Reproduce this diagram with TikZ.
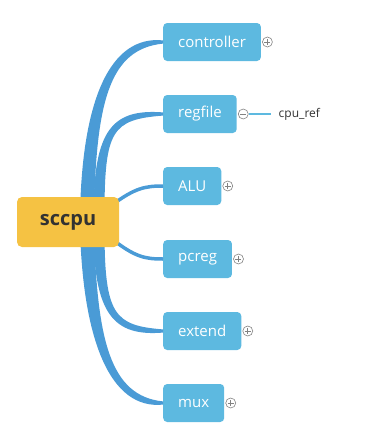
\documentclass[tikz,border=0pt]{standalone}
\usepackage{fontspec}
\setmainfont{Open Sans}
\usetikzlibrary{positioning,calc}

\definecolor{rootfill}{RGB}{245,194,67}
\definecolor{topicfill}{RGB}{93,185,224}
\definecolor{branchblue}{RGB}{74,155,214}
\definecolor{foldgrey}{RGB}{130,130,130}
\definecolor{labeltext}{RGB}{50,50,50}

\tikzset{
  root/.style={fill=rootfill, rounded corners=5pt, minimum width=102pt,
    minimum height=50pt, font=\fontsize{20}{24}\selectfont\bfseries, text=labeltext},
  topic/.style={fill=topicfill, rounded corners=4pt, anchor=west, minimum height=38pt,
    inner xsep=15pt, font=\fontsize{15}{18}\selectfont, text=white},
  fold/.style={circle, draw=foldgrey, line width=0.6pt, minimum size=10pt, inner sep=0pt,
    path picture={
      \draw[foldgrey, line width=0.6pt]
        ([xshift=2pt]path picture bounding box.west) -- ([xshift=-2pt]path picture bounding box.east)
        ([yshift=-2pt]path picture bounding box.north) -- ([yshift=2pt]path picture bounding box.south);}},
  unfold/.style={circle, draw=foldgrey, line width=0.6pt, minimum size=10pt, inner sep=0pt,
    path picture={
      \draw[foldgrey, line width=0.6pt]
        ([xshift=2pt]path picture bounding box.west) -- ([xshift=-2pt]path picture bounding box.east);}},
  branchline/.style={fill=branchblue},
  thinbranch/.style={draw=branchblue, line width=3.5pt},
}

% tapered branch: base, two controls, target node, half width at base, +1 up / -1 down
\newcommand\branchto[6]{%
  \fill[branchline] ($(#1)+(-#5,0)$) .. controls ($(#2)+(-#5,0)$) and ($(#3)+(0,{-#5*(#6)})$) .. ($(#4.west)+(0,{-1.6*(#6)})$)
    -- ($(#4.west)+(0,{1.6*(#6)})$) .. controls ($(#3)+(0,{#5*(#6)})$) and ($(#2)+(#5,0)$) .. ($(#1)+(#5,0)$) -- cycle;}

\begin{document}
\begin{tikzpicture}[x=1pt, y=-1pt]
  \useasboundingbox (0,0) rectangle (366,442);

  % topics
  \node[topic] (controller) at (163,42)  {controller};
  \node[topic] (regfile)    at (163,114) {regfile};
  \node[topic] (alu)        at (163,186) {ALU};
  \node[topic] (pcreg)      at (163,259) {pcreg};
  \node[topic] (extend)     at (163,331) {extend};
  \node[topic] (mux)        at (163,403) {mux};

  % branches, drawn below the central topic
  \coordinate (base-controller) at (87,215);
  \coordinate (base-regfile)    at (99,215);
  \coordinate (base-alu)        at (112,205);
  \coordinate (base-pcreg)      at (112,239);
  \coordinate (base-extend)     at (99,229);
  \coordinate (base-mux)        at (87,229);

  \branchto{base-controller}{89,100}{110,42}{controller}{7}{1}
  \branchto{base-regfile}{99,130}{112,114}{regfile}{5.5}{1}
  \branchto{base-extend}{99,315}{114,331}{extend}{5.5}{-1}
  \branchto{base-mux}{90,340}{110,403}{mux}{7}{-1}
  \draw[thinbranch] (base-alu) .. controls (135,188) and (145,186) .. (alu.west);
  \draw[thinbranch] (base-pcreg) .. controls (135,257) and (145,259) .. (pcreg.west);

  \node[root] (sccpu) at (68,222) {sccpu};

  % fold markers
  \node[fold]   (controller-mark) [right=1pt of controller] {};
  \node[unfold] (regfile-mark)    [right=1pt of regfile] {};
  \node[fold]   (alu-mark)        [right=1pt of alu] {};
  \node[fold]   (pcreg-mark)      [right=1pt of pcreg] {};
  \node[fold]   (extend-mark)     [right=1pt of extend] {};
  \node[fold]   (mux-mark)        [right=1pt of mux] {};

  % subtopic of regfile
  \node[right=22pt of regfile-mark, inner xsep=8pt, inner ysep=0pt, text=labeltext,
    font=\fontsize{12}{14}\selectfont] (cpu-ref) {cpu\_ref};
  \draw[topicfill, line width=1.2pt] (regfile-mark) -- (cpu-ref);
\end{tikzpicture}
\end{document}
